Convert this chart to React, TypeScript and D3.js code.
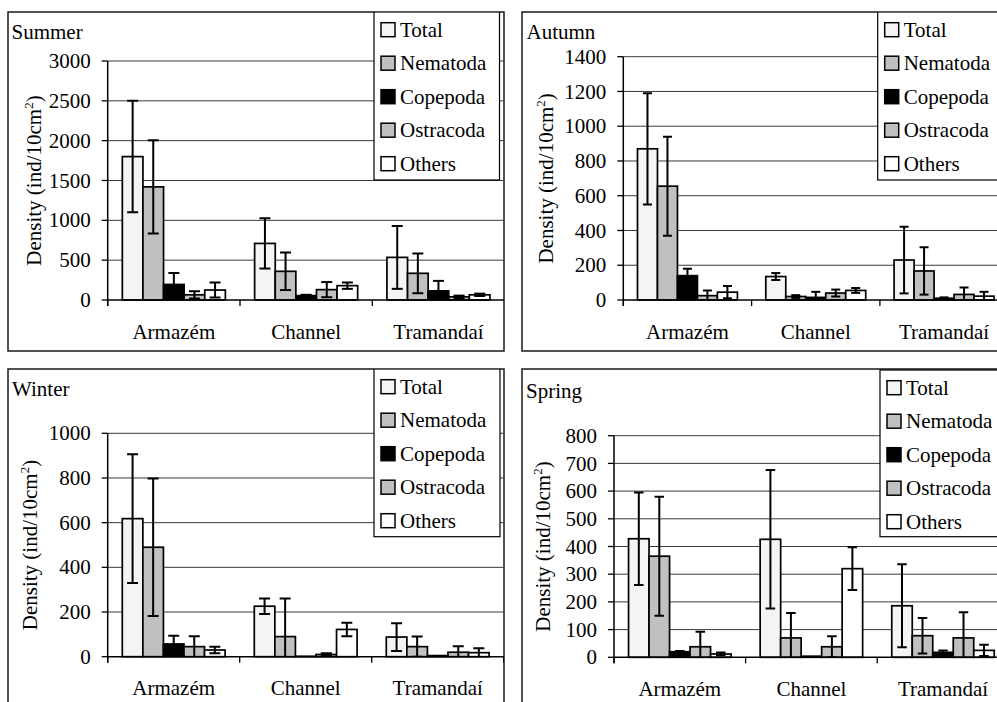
import React from "react";
import * as d3 from "d3";

const categories = ["Armazém", "Channel", "Tramandaí"];
const taxa = ["Total", "Nematoda", "Copepoda", "Ostracoda", "Others"];
const seasons = ["Summer", "Autumn", "Winter", "Spring"];

// means [category][taxon]
const summerMean = [
  [1800, 1420, 195, 65, 125],
  [710, 360, 55, 130, 180],
  [535, 335, 115, 40, 65],
];
const summerErr = [
  [700, 585, 145, 45, 95],
  [315, 235, 10, 95, 40],
  [395, 250, 125, 15, 15],
];
const autumnMean = [
  [870, 655, 140, 25, 45],
  [135, 20, 15, 40, 55],
  [230, 167, 10, 32, 22],
];
const autumnErr = [
  [320, 285, 40, 30, 35],
  [20, 8, 32, 20, 14],
  [192, 136, 5, 40, 25],
];
const winterMean = [
  [618, 490, 57, 45, 30],
  [226, 90, 2, 10, 122],
  [88, 45, 5, 20, 18],
];
const winterErr = [
  [288, 308, 37, 47, 15],
  [35, 170, 0, 5, 30],
  [62, 45, 0, 27, 20],
];
const springMean = [
  [428, 365, 20, 38, 12],
  [426, 70, 4, 38, 320],
  [186, 78, 18, 70, 25],
];
const springErr = [
  [167, 215, 3, 54, 5],
  [250, 90, 0, 38, 77],
  [150, 64, 7, 93, 20],
];

const summerTicks = [0, 500, 1000, 1500, 2000, 2500, 3000];
const autumnTicks = [0, 200, 400, 600, 800, 1000, 1200, 1400];
const winterTicks = [0, 200, 400, 600, 800, 1000];
const springTicks = [0, 100, 200, 300, 400, 500, 600, 700, 800];

const means = [summerMean, autumnMean, winterMean, springMean];
const errs = [summerErr, autumnErr, winterErr, springErr];
const ticks = [summerTicks, autumnTicks, winterTicks, springTicks];

const fills = ["#f4f4f4", "#c0c0c0", "#000000", "#c0c0c0", "#ffffff"];

const layouts = [
  { px: 8, py: 12, pw: 496, ph: 339, left: 107.7, top: 61, bottom: 300, cw: 132.3, lx: 374, ly: 12, lw: 125.5, lh: 168, tx: 11.5, ty: 38.5, labX: 41, cap: 11 },
  { px: 522, py: 12, pw: 500, ph: 339, left: 623.3, top: 56.7, bottom: 300, cw: 128.3, lx: 877.7, ly: 12, lw: 126, lh: 168, tx: 526.5, ty: 38.5, labX: 553, cap: 9 },
  { px: 8, py: 369, pw: 496, ph: 345, left: 107.7, top: 433.3, bottom: 656.7, cw: 132, lx: 374, ly: 369, lw: 126, lh: 167.7, tx: 12, ty: 395.5, labX: 37, cap: 11 },
  { px: 522, py: 369, pw: 500, ph: 345, left: 614, top: 435.7, bottom: 657.3, cw: 131.6, lx: 880, ly: 370, lw: 126, lh: 166.7, tx: 526, ty: 397.5, labX: 550, cap: 9.5 },
];

const FONT = `"Liberation Serif"`;
const FS = 21;

function Panel({ idx }: { idx: number }) {
  const L = layouts[idx];
  const m = means[idx];
  const e = errs[idx];
  const tk = ticks[idx];
  const maxV = tk[tk.length - 1];
  const right = L.left + 3 * L.cw;
  const x0 = d3.scaleBand<string>().domain(categories).range([L.left, right]).paddingInner(0).paddingOuter(0);
  const x1 = d3.scaleBand<string>().domain(taxa).range([0, x0.bandwidth()]).paddingInner(0).paddingOuter(0.71);
  const y = d3.scaleLinear().domain([0, maxV]).range([L.bottom, L.top]);
  const clipId = `panelclip${idx}`;
  const plotClip = `plotclip${idx}`;
  const bounds = d3.range(4).map((i) => L.left + i * L.cw);
  const ts = { fontFamily: FONT, fontSize: FS };
  return (
    <g>
      <defs>
        <clipPath id={clipId}>
          <rect x={L.px} y={L.py} width={L.pw} height={L.ph} />
        </clipPath>
        <clipPath id={plotClip}>
          <rect x={L.left} y={L.top - 20} width={right - L.left} height={L.bottom - L.top + 20} />
        </clipPath>
      </defs>
      <rect x={L.px} y={L.py} width={L.pw} height={L.ph} fill="#fff" stroke="#1a1a1a" strokeWidth={1.5} />
      <g clipPath={`url(#${clipId})`}>
        {tk.filter((t) => t > 0).map((t) => (
          <line key={t} x1={L.left} x2={right} y1={y(t)} y2={y(t)} stroke="#3a3a3a" strokeWidth={1} />
        ))}
        {categories.map((c, ci) =>
          taxa.map((t, ti) => (
            <rect
              key={c + t}
              x={(x0(c) as number) + (x1(t) as number)}
              y={y(m[ci][ti])}
              width={x1.bandwidth()}
              height={L.bottom - y(m[ci][ti])}
              fill={fills[ti]}
              stroke="#000"
              strokeWidth={1.7}
            />
          ))
        )}
        <g clipPath={`url(#${plotClip})`}>
          {categories.map((c, ci) =>
            taxa.map((t, ti) => {
              const err = e[ci][ti];
              if (!err) return null;
              const cx = (x0(c) as number) + (x1(t) as number) + x1.bandwidth() / 2;
              const yt = y(m[ci][ti] + err);
              const yb = y(m[ci][ti] - err);
              return (
                <g key={c + t} stroke="#000" strokeWidth={2}>
                  <line x1={cx} x2={cx} y1={yt} y2={yb} />
                  <line x1={cx - L.cap / 2} x2={cx + L.cap / 2} y1={yt} y2={yt} />
                  <line x1={cx - L.cap / 2} x2={cx + L.cap / 2} y1={yb} y2={yb} />
                </g>
              );
            })
          )}
        </g>
        <line x1={L.left} x2={L.left} y1={L.top} y2={L.bottom + 6} stroke="#000" strokeWidth={1.5} />
        {tk.map((t) => (
          <line key={"t" + t} x1={L.left - 6} x2={L.left} y1={y(t)} y2={y(t)} stroke="#000" strokeWidth={1.3} />
        ))}
        <line x1={L.left} x2={right} y1={L.bottom} y2={L.bottom} stroke="#000" strokeWidth={1.5} />
        {bounds.map((b, i) => (
          <line key={"b" + i} x1={b} x2={b} y1={L.bottom} y2={L.bottom + 6} stroke="#000" strokeWidth={1.3} />
        ))}
        {tk.map((t) => (
          <text key={"l" + t} x={L.left - 17} y={y(t)} dy="0.34em" textAnchor="end" style={ts}>
            {t}
          </text>
        ))}
        {categories.map((c) => (
          <text key={"c" + c} x={(x0(c) as number) + x0.bandwidth() / 2} y={L.bottom + 38.5} textAnchor="middle" style={ts}>
            {c}
          </text>
        ))}
        <text x={L.tx} y={L.ty} style={ts}>
          {seasons[idx]}
        </text>
        <text
          transform={`translate(${L.labX},${(L.top + L.bottom) / 2}) rotate(-90)`}
          textAnchor="middle"
          style={ts}
        >
          Density (ind/10cm
          <tspan dy={-8} style={{ fontSize: 13 }}>2</tspan>
          <tspan dy={8}>)</tspan>
        </text>
        <rect x={L.lx} y={L.ly} width={L.lw} height={L.lh} fill="#fff" stroke="#000" strokeWidth={1.2} />
        {taxa.map((t, ti) => {
          const cy = L.ly + 17.7 + ti * 33.5;
          return (
            <g key={"lg" + t}>
              <rect x={L.lx + 7} y={cy - 7} width={14} height={14} fill={fills[ti]} stroke="#000" strokeWidth={1.5} />
              <text x={L.lx + 26} y={cy} dy="0.34em" style={ts}>
                {t}
              </text>
            </g>
          );
        })}
      </g>
    </g>
  );
}

export default function App() {
  return (
    <svg width={997} height={702} style={{ position: "absolute", left: 0, top: 0 }}>
      <rect x={0} y={0} width={997} height={702} fill="#fff" />
      {layouts.map((_, i) => (
        <Panel key={i} idx={i} />
      ))}
    </svg>
  );
}
